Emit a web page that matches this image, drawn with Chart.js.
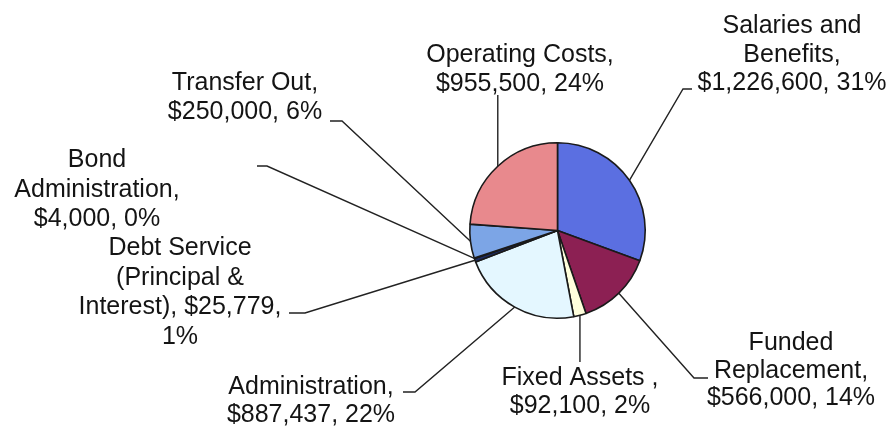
<!DOCTYPE html>
<html>
<head>
<meta charset="utf-8">
<script src="https://cdn.jsdelivr.net/npm/chart.js@4.4.1/dist/chart.umd.min.js"></script>
<style>
  html, body { margin: 0; padding: 0; background: #ffffff; }
  #wrap { width: 892px; height: 430px; }
</style>
</head>
<body>
<div id="wrap"><canvas id="c" width="892" height="430"></canvas></div>
<script>
// ---- data ----
const categories = [
  "Salaries and Benefits",
  "Funded Replacement",
  "Fixed Assets",
  "Administration",
  "Debt Service (Principal & Interest)",
  "Bond Administration",
  "Transfer Out",
  "Operating Costs"
];
const amounts = [1226600, 566000, 92100, 887437, 25779, 4000, 250000, 955500];
const sliceColors = ["#5B6FE1", "#8C2053", "#FFFFDC", "#E4F7FF", "#1D2B5E", "#3A4A7A", "#7CA5E6", "#E8898D"];

// label text lines ({v} = amount, {p} = percent)
const labelLines = [
  ["Salaries and", "Benefits,", "{v}, {p}"],
  ["Funded", "Replacement,", "{v}, {p}"],
  ["Fixed Assets ,", "{v}, {p}"],
  ["Administration,", "{v}, {p}"],
  ["Debt Service", "(Principal &", "Interest), {v},", "{p}"],
  ["Bond", "Administration,", "{v}, {p}"],
  ["Transfer Out,", "{v}, {p}"],
  ["Operating Costs,", "{v}, {p}"]
];

// ---- label placement (layout, not data) ----
// cx: text centre x, y0: first baseline, lh: line height, elbow: leader bend, end: leader end
const labelLayout = [
  { cx: 792, y0: 33,  lh: 28.5, elbow: [683, 89],  end: [692, 89] },
  { cx: 791, y0: 350, lh: 27.5, elbow: [694, 378], end: [708, 378] },
  { cx: 580, y0: 385, lh: 28,   elbow: null,       end: [582, 362], vertical: true },
  { cx: 311, y0: 394, lh: 28,   elbow: [415, 392], end: [403, 392] },
  { cx: 180, y0: 255, lh: 29.5, elbow: [305, 313], end: [289, 313] },
  { cx: 97,  y0: 167, lh: 29.5, elbow: [267, 166], end: [257, 166] },
  { cx: 245, y0: 90,  lh: 29,   elbow: [342, 121], end: [330, 121] },
  { cx: 520, y0: 62,  lh: 29,   elbow: null,       end: [497, 95], vertical: true }
];

const total = amounts.reduce((a, b) => a + b, 0);
const fmtMoney = v => "$" + v.toLocaleString("en-US");
const fmtPct = v => Math.round(v / total * 100) + "%";

const labelPlugin = {
  id: "leaderLabels",
  afterDatasetsDraw(chart) {
    const ctx = chart.ctx;
    const meta = chart.getDatasetMeta(0);
    ctx.save();
    meta.data.forEach((arc, i) => {
      const p = arc.getProps(["x", "y", "startAngle", "endAngle", "outerRadius"], true);
      const mid = (p.startAngle + p.endAngle) / 2;
      const ex = p.x + Math.cos(mid) * p.outerRadius;
      const ey = p.y + Math.sin(mid) * p.outerRadius;
      const L = labelLayout[i];
      ctx.strokeStyle = "#222222";
      ctx.lineWidth = 1.4;
      ctx.beginPath();
      ctx.moveTo(ex, ey);
      if (L.vertical) {
        ctx.lineTo(ex, L.end[1]);
      } else {
        ctx.lineTo(L.elbow[0], L.elbow[1]);
        ctx.lineTo(L.end[0], L.end[1]);
      }
      ctx.stroke();

      ctx.fillStyle = "#141414";
      ctx.font = "25px 'Liberation Sans', Arial, sans-serif";
      ctx.textAlign = "center";
      ctx.textBaseline = "alphabetic";
      labelLines[i].forEach((t, k) => {
        const s = t.replace("{v}", fmtMoney(amounts[i])).replace("{p}", fmtPct(amounts[i]));
        ctx.fillText(s, L.cx, L.y0 + k * L.lh);
      });
    });
    ctx.restore();
  }
};

new Chart(document.getElementById("c"), {
  type: "pie",
  data: {
    labels: categories,
    datasets: [{
      data: amounts,
      backgroundColor: sliceColors,
      borderColor: "#1a1a1a",
      borderWidth: 1.6
    }]
  },
  options: {
    responsive: false,
    animation: false,
    layout: { padding: { left: 469, right: 246, top: 142, bottom: 111 } },
    plugins: {
      legend: { display: false },
      tooltip: { enabled: false }
    }
  },
  plugins: [labelPlugin]
});
</script>
</body>
</html>
